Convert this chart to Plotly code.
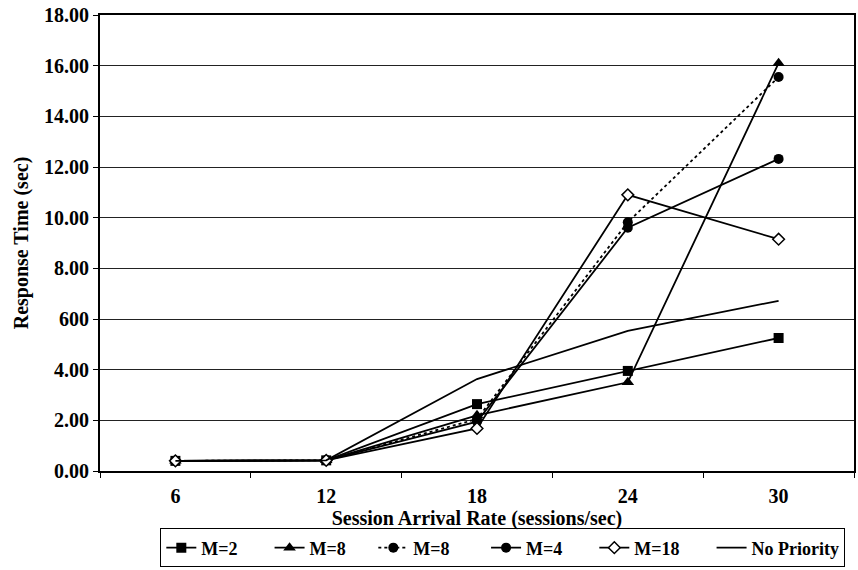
import plotly.graph_objects as go

categories = ["6", "12", "18", "24", "30"]
m2 = [0.40, 0.42, 2.64, 3.95, 5.25]
m8 = [0.40, 0.42, 2.20, 3.50, 16.10]
m8_dotted = [0.40, 0.42, 2.05, 9.82, 15.55]
m4 = [0.40, 0.42, 1.95, 9.60, 12.32]
m18 = [0.40, 0.42, 1.68, 10.90, 9.15]
no_priority = [0.40, 0.42, 3.63, 5.53, 6.72]

series_names = ["M=2", "M=8", "M=8", "M=4", "M=18", "No Priority"]

y_tickvals = [0, 2, 4, 6, 8, 10, 12, 14, 16, 18]
y_ticktext = ["0.00", "2.00", "4.00", "600", "8.00", "10.00", "12.00", "14.00", "16.00", "18.00"]

FONT = "Liberation Serif"
NB = "\u00a0"
pads = [6, 5, 7, 6, 6, 0]


def label(i):
    return "<b>" + series_names[i] + "</b>" + NB * pads[i]


fig = go.Figure()
fig.add_trace(go.Scatter(x=categories, y=m2, name=label(0), mode="lines+markers",
                         line=dict(color="black", width=1.8),
                         marker=dict(symbol="square", size=10, color="black")))
fig.add_trace(go.Scatter(x=categories, y=m8, name=label(1), mode="lines+markers",
                         line=dict(color="black", width=1.8),
                         marker=dict(symbol="triangle-up", size=11, color="black")))
fig.add_trace(go.Scatter(x=categories, y=m8_dotted, name=label(2), mode="lines+markers",
                         line=dict(color="black", width=1.8, dash="dot"),
                         marker=dict(symbol="circle", size=10, color="black")))
fig.add_trace(go.Scatter(x=categories, y=m4, name=label(3), mode="lines+markers",
                         line=dict(color="black", width=1.8),
                         marker=dict(symbol="circle", size=10, color="black")))
fig.add_trace(go.Scatter(x=categories, y=m18, name=label(4), mode="lines+markers",
                         line=dict(color="black", width=1.8),
                         marker=dict(symbol="diamond", size=9, color="white",
                                     line=dict(color="black", width=1.5))))
fig.add_trace(go.Scatter(x=categories, y=no_priority, name=label(5), mode="lines",
                         line=dict(color="black", width=1.8)))

fig.update_layout(
    width=858, height=570,
    margin=dict(l=100, r=2, t=15, b=98),
    paper_bgcolor="white", plot_bgcolor="white",
    font=dict(family=FONT, color="black", size=20),
    showlegend=True,
    legend=dict(orientation="h", x=0.08, xanchor="left", y=-0.126, yanchor="top",
                bordercolor="black", borderwidth=1, bgcolor="white",
                font=dict(family=FONT, size=18, color="black"),
                itemwidth=30, tracegroupgap=0),
    xaxis=dict(type="category", range=[-0.5, 4.5],
               tickvals=categories, ticktext=["<b>%s</b>" % c for c in categories],
               showline=True, linecolor="black", linewidth=2, mirror=True,
               ticks="outside", tickson="boundaries", ticklen=5, tickcolor="black",
               ticklabelstandoff=6,
               showgrid=False, zeroline=False,
               tickfont=dict(family=FONT, size=20, color="black"),
               title=dict(text="<b>Session Arrival Rate (sessions/sec)</b>",
                          font=dict(family=FONT, size=20, color="black"), standoff=3)),
    yaxis=dict(range=[0, 18], tickvals=y_tickvals,
               ticktext=["<b>%s</b>" % t for t in y_ticktext],
               showline=True, linecolor="black", linewidth=2, mirror=True,
               ticks="outside", ticklen=5, tickcolor="black",
               showgrid=True, gridcolor="#222222", gridwidth=1, zeroline=False,
               tickfont=dict(family=FONT, size=20, color="black"),
               title=dict(text="<b>Response Time (sec)</b>",
                          font=dict(family=FONT, size=20, color="black"), standoff=10)),
)

fig.write_html("out.html")
